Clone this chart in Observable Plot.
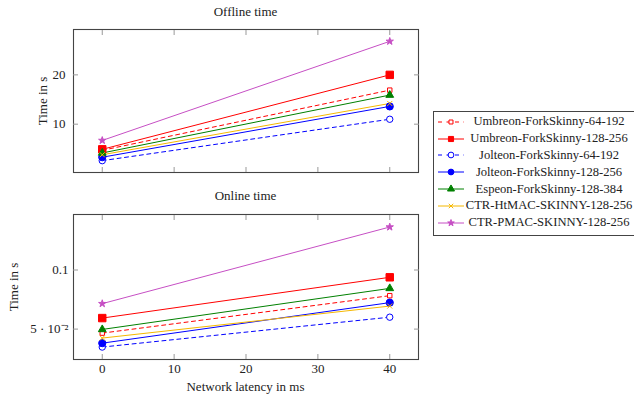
<!DOCTYPE html>
<html>
<head>
<meta charset="utf-8">
<script src="https://cdn.jsdelivr.net/npm/d3@7"></script>
<script src="https://cdn.jsdelivr.net/npm/@observablehq/plot@0.6"></script>
<style>
  html, body { margin: 0; padding: 0; background: #fff; }
  body { font-family: "Liberation Serif", serif; color: #222; }
  #root { position: relative; width: 634px; height: 398px; overflow: hidden; }
  .abs { position: absolute; }
  .title { font-family: "Liberation Serif", serif; font-size: 13px; transform: translate(-50%, -50%); white-space: nowrap; }
  .ylab { font-family: "Liberation Serif", serif; font-size: 13px; transform: translate(-50%, -50%) rotate(-90deg); white-space: nowrap; }
  .xlab { font-family: "Liberation Serif", serif; font-size: 13px; transform: translate(-50%, -50%); white-space: nowrap; }
  #legend { border: 1px solid #444; box-sizing: border-box; padding-top: 2px; background: #fff; }
  .row { display: flex; align-items: center; height: 16.8px; }
  .row svg { flex: none; }
  .row span { flex: 1; text-align: center; font-family: "Liberation Serif", serif; font-size: 12.6px; white-space: nowrap; padding-right: 2px; }
</style>
</head>
<body>
<div id="root"></div>
<script>
// ---- data ----
const latency = [0, 40];
const series = [
  "Umbreon-ForkSkinny-64-192",
  "Umbreon-ForkSkinny-128-256",
  "Jolteon-ForkSkinny-64-192",
  "Jolteon-ForkSkinny-128-256",
  "Espeon-ForkSkinny-128-384",
  "CTR-HtMAC-SKINNY-128-256",
  "CTR-PMAC-SKINNY-128-256"
];
const offlineAt0  = [4.7, 4.9, 2.6, 3.3, 4.16, 3.8, 6.7];
const offlineAt40 = [16.9, 20.0, 11.0, 13.6, 15.9, 14.2, 26.8];
const onlineAt0   = [0.0477, 0.0569, 0.0405, 0.0424, 0.0498, 0.0450, 0.0674];
const onlineAt40  = [0.0740, 0.0918, 0.0575, 0.0682, 0.0806, 0.0655, 0.1656];
const offlineTicks = [10, 20];
const offlineTickLabels = ["10", "20"];
const onlineTicks = [0.05, 0.1];
const onlineTickLabels = ["5 · 10⁻²", "0.1"];
const latencyTicks = [0, 10, 20, 30, 40];
const latencyTickLabels = ["0", "10", "20", "30", "40"];

// ---- styles ----
const colors  = ["#ff0000", "#ff0000", "#0000ff", "#0000ff", "#008000", "#f5b800", "#c64fc4"];
const dashes  = ["4,3.5", null, "4,3.5", null, null, null, null];
const symbols = ["square", "square", "circle", "circle", "triangle", "times", "star"];
const filled  = [false, true, false, true, true, false, true];
const radii   = [2.5, 4.2, 3.2, 3.6, 2.9, 2.4, 2.3];

function rowsFor(a0, a40) {
  return series.flatMap((s, i) => latency.map((x, j) => ({series: s, idx: i, latency: x, time: j === 0 ? a0[i] : a40[i]})));
}

function seriesMarks(rows) {
  const marks = [];
  series.forEach((s, i) => {
    const d = rows.filter(r => r.series === s);
    marks.push(Plot.line(d, {x: "latency", y: "time", stroke: colors[i], strokeWidth: 1, strokeDasharray: dashes[i]}));
  });
  series.forEach((s, i) => {
    const d = rows.filter(r => r.series === s);
    marks.push(Plot.dot(d, {x: "latency", y: "time", symbol: () => symbols[i], r: radii[i],
      stroke: colors[i], fill: filled[i] ? colors[i] : (symbols[i] === "times" ? "none" : "white"), strokeWidth: 1}));
  });
  return marks;
}

const fontStyle = {fontFamily: "Liberation Serif, serif", fontSize: "13px", color: "#222", background: "transparent"};
const root = document.getElementById("root");

function place(el, left, top) {
  const w = document.createElement("div");
  w.className = "abs";
  w.style.left = left + "px";
  w.style.top = top + "px";
  w.appendChild(el);
  root.appendChild(w);
  return w;
}
function label(text, cls, left, top) {
  const d = document.createElement("div");
  d.className = "abs " + cls;
  d.style.left = left + "px";
  d.style.top = top + "px";
  d.textContent = text;
  root.appendChild(d);
}

// ---- top: offline ----
const offline = Plot.plot({
  width: 430, height: 180,
  marginTop: 29, marginBottom: 8, marginLeft: 73, marginRight: 12,
  style: fontStyle,
  x: {domain: [-4, 44]},
  y: {domain: [0.2, 29.2]},
  marks: [
    Plot.frame({stroke: "#444", strokeWidth: 1.1}),
    Plot.axisX({anchor: "bottom", ticks: latencyTicks, tickSize: -5, tickFormat: () => "", stroke: "#999", label: null}),
    Plot.axisX({anchor: "top", ticks: latencyTicks, tickSize: -5, tickFormat: () => "", stroke: "#999", label: null}),
    Plot.axisY({anchor: "left", ticks: offlineTicks, tickSize: -5, tickPadding: 13, stroke: "#999", fill: "#222",
      tickFormat: d => offlineTickLabels[offlineTicks.indexOf(d)], label: null}),
    Plot.axisY({anchor: "right", ticks: offlineTicks, tickSize: -5, tickFormat: () => "", stroke: "#999", label: null}),
    ...seriesMarks(rowsFor(offlineAt0, offlineAt40))
  ]
});
place(offline, 0, 0);

// ---- bottom: online ----
const online = Plot.plot({
  width: 430, height: 218,
  marginTop: 34, marginBottom: 39, marginLeft: 73, marginRight: 12,
  style: fontStyle,
  x: {domain: [-4, 44]},
  y: {type: "log", domain: [0.035, 0.1918]},
  marks: [
    Plot.frame({stroke: "#444", strokeWidth: 1.1}),
    Plot.axisX({anchor: "bottom", ticks: latencyTicks, tickSize: -5, tickPadding: 9.5, stroke: "#999", fill: "#222",
      tickFormat: d => latencyTickLabels[latencyTicks.indexOf(d)], label: null}),
    Plot.axisX({anchor: "top", ticks: latencyTicks, tickSize: -5, tickFormat: () => "", stroke: "#999", label: null}),
    Plot.axisY({anchor: "left", ticks: onlineTicks, tickSize: -5, tickPadding: 10, stroke: "#999", fill: "#222",
      tickFormat: d => onlineTickLabels[onlineTicks.indexOf(d)], label: null}),
    Plot.axisY({anchor: "right", ticks: onlineTicks, tickSize: -5, tickFormat: () => "", stroke: "#999", label: null}),
    ...seriesMarks(rowsFor(onlineAt0, onlineAt40))
  ]
});
place(online, 0, 180);

// ---- titles and axis labels ----
label("Offline time", "title", 245.5, 11.5);
label("Online time", "title", 245.5, 196);
label("Time in s", "ylab", 43, 100.5);
label("Time in s", "ylab", 14, 286.5);
label("Network latency in ms", "xlab", 245.5, 387);

// ---- legend ----
const legend = document.createElement("div");
legend.id = "legend";
legend.className = "abs";
legend.style.left = "432.5px";
legend.style.top = "110.5px";
legend.style.width = "203px";
legend.style.height = "125px";
const symMap = {square: d3.symbolSquare, circle: d3.symbolCircle, triangle: d3.symbolTriangle, times: d3.symbolTimes, star: d3.symbolStar};
series.forEach((s, i) => {
  const row = document.createElement("div");
  row.className = "row";
  const svg = d3.create("svg").attr("width", 32).attr("height", 16);
  svg.append("line").attr("x1", 4).attr("x2", 30).attr("y1", 8).attr("y2", 8)
    .attr("stroke", colors[i]).attr("stroke-width", 1)
    .attr("stroke-dasharray", dashes[i] ? "4,4.5" : null);
  const r = Math.min(radii[i], 3.2) * 0.9;
  svg.append("path")
    .attr("transform", "translate(17,8)")
    .attr("d", d3.symbol(symMap[symbols[i]], r * r * Math.PI)())
    .attr("stroke", colors[i]).attr("stroke-width", 1)
    .attr("fill", filled[i] ? colors[i] : (symbols[i] === "times" ? "none" : "white"));
  row.appendChild(svg.node());
  const t = document.createElement("span");
  t.textContent = s;
  row.appendChild(t);
  legend.appendChild(row);
});
root.appendChild(legend);
</script>
</body>
</html>
